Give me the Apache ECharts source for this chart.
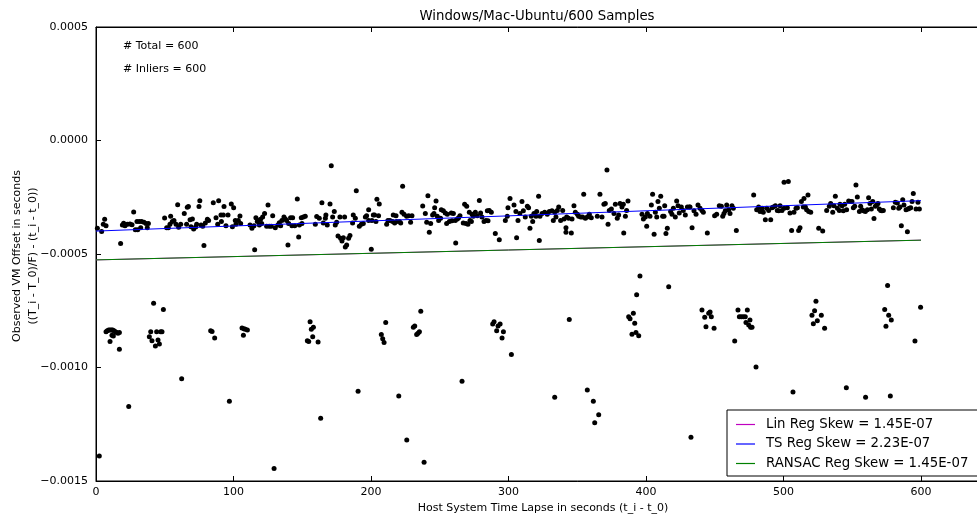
<!DOCTYPE html>
<html>
<head>
<meta charset="utf-8">
<script src="https://cdn.jsdelivr.net/npm/echarts@6/dist/echarts.min.js"></script>
<style>
html, body { margin: 0; padding: 0; background: #fff; overflow: hidden; }
/* the canvas is wider than the window; the plot frame continues past the right edge */
#chart { width: 1060px; height: 516px; }
</style>
</head>
<body>
<div id="chart"></div>
<script>
const chartTitle = 'Windows/Mac-Ubuntu/600 Samples';
const xTitle = 'Host System Time Lapse in seconds (t_i - t_0)';
const yTitleLines = ['Observed VM Offset in seconds', '((T_i - T_0)/F) - (t_i - t_0))'];
const statLines = ['# Total = 600', '# Inliers = 600'];

// Samples near the main trend: [time lapse (s), offset (microseconds)]
const bandPoints = [
  [1,-387],[4.1,-401],[6.3,-347],[5.3,-369],[7.3,-375],[17.9,-454],[19.2,-372],[20.1,-365],[21.1,-375],[22.8,-369],
  [24.7,-368],[26.2,-371],[27.4,-315],[28.6,-393],[30.3,-393],[29.8,-357],[31.5,-357],[33.2,-357],[34.9,-360],[36.4,-366],
  [38.1,-366],[32.5,-384],[37.3,-384],[49.9,-341],[51.4,-384],[52.6,-384],[54.3,-334],[53.8,-369],[55.5,-357],[56.7,-352],
  [59.4,-283],[58.2,-369],[60.1,-382],[61.6,-369],[64.2,-322],[66.4,-294],[67.2,-291],[68.4,-349],[70.1,-346],[65.9,-369],
  [69.1,-380],[71,-390],[72.5,-381],[73.2,-369],[74.9,-291],[75.5,-265],[76.4,-372],[77.6,-378],[78.5,-463],[79.5,-363],
  [81,-347],[81.9,-352],[85.3,-274],[89.2,-265],[87.3,-340],[90.9,-328],[92.6,-328],[93.1,-291],[88.5,-369],[91.2,-357],
  [94.5,-375],[96,-328],[98.4,-280],[100.1,-296],[99.2,-380],[101.3,-352],[103.5,-352],[101.8,-369],
  [104.7,-333],[105.2,-366],[112,-372],[113.4,-387],[114.9,-375],[115.4,-481],[116.3,-340],[118,-352],[119.7,-347],[121.2,-337],
  [122.6,-322],[117.3,-357],[118.8,-372],[120.5,-366],[125.1,-284],[124.1,-378],[126,-378],[127.5,-378],[128.5,-331],[130.4,-384],
  [132.3,-372],[133.3,-362],[134.3,-375],[135.2,-352],[136.7,-337],[137.7,-346],[138.6,-352],[139.6,-460],[140.1,-366],[141.5,-340],
  [143,-340],[146.4,-258],[147.4,-425],[142.5,-375],[144.5,-375],[147.9,-372],[149.3,-340],[150.8,-337],[152.2,-334],[149.8,-366],
  [159.5,-369],[160.5,-335],[162.4,-343],[164.3,-274],[165.3,-363],[166.8,-343],[167.2,-328],[168.2,-372],[170.2,-280],[171.1,-111],
  [172.1,-337],[173.3,-313],[174,-372],[175,-360],[176,-421],[177.9,-431],[178.9,-443],[179.9,-428],[181.3,-469],[182.3,-460],
  [183.7,-431],[184.7,-419],[177.4,-337],[180.8,-337],[187.1,-328],[188.6,-343],[189.3,-221],[186.6,-363],[191.5,-378],[193,-369],
  [194.4,-366],[195.9,-337],[196.8,-331],[198.3,-305],[200.2,-479],[198.3,-352],[200.7,-352],[201.7,-328],[202.6,-328],[204.3,-259],
  [206,-280],[203.6,-357],[205.5,-331],[211.4,-369],[212.3,-352],
  [213.8,-352],[215.7,-357],[217.2,-363],[218.6,-357],[220.6,-357],[221.6,-363],[216.2,-328],[218.2,-331],[223,-202],[222.5,-316],
  [224,-325],[225.9,-334],[227.4,-331],[229.8,-331],[228.8,-360],[237.6,-289],[239.5,-322],[240.5,-360],[241.4,-243],[242.4,-404],
  [243.4,-366],[244.8,-328],[245.8,-322],[246.3,-296],[247.3,-266],[248.2,-334],[249.2,-352],[250.6,-343],[251.1,-305],[252.6,-310],
  [254,-319],[255.5,-325],[258.4,-319],[255,-366],[257,-357],[258.9,-354],[259.9,-322],[261.3,-352],[262.8,-346],[263.7,-340],
  [261.6,-451],[264.7,-331],[268.1,-281],[269.6,-290],[267.1,-363],[269.1,-366],[270.5,-369],[272,-352],[273,-357],[271.5,-316],
  [273.5,-325],[274.4,-334],[275.9,-316],[277.3,-331],[278.8,-264],[279.7,-319],[280.7,-337],[282.2,-357],[283.6,-352],[285.1,-354],
  [284.6,-310],[286,-308],[287.5,-316],[290.4,-410],[293.3,-437],[297.7,-352],[299.1,-334],[299.6,-296],[301.1,-255],[304,-284],
  [305.4,-313],[305.9,-428],[306.9,-352],[308.3,-322],[309.8,-269],[310.8,-310],[312.2,-337],[313.7,-290],[314.6,-296],[315.6,-387],
  [316.6,-334],[317.6,-357],[318.5,-322],[320,-334],[321.9,-246],[320.5,-313],[322.4,-440],
  [322.9,-334],[324.4,-322],[326.3,-316],[328.2,-325],[329.7,-313],[331.6,-310],[333.6,-316],[335.5,-308],[332.6,-352],[334.5,-337],
  [336.5,-293],[337.9,-352],[339.4,-308],[340.4,-346],[342.3,-337],[343.7,-343],[341.8,-384],[341.8,-404],[345.7,-407],[346.2,-346],
  [347.6,-287],[348.6,-316],[350.1,-325],[351,-334],[352.5,-337],[353.9,-337],[355.9,-343],[357.3,-337],[358.8,-325],[360.2,-340],
  [354.7,-237],[364.6,-334],[366.5,-237],[368,-337],[369.4,-281],[370.4,-278],[371.6,-130],[372.4,-369],[373.3,-308],[374.8,-302],
  [376.7,-322],[377.7,-281],[379.1,-343],[380.1,-328],[381.1,-278],[382.5,-293],[383.5,-281],[383.8,-407],[385,-334],[385.9,-308],
  [386.9,-266],[397.1,-325],[398.1,-346],[399.5,-337],[401,-322],[402.9,-334],[403.9,-284],[400.5,-378],[404.8,-237],[405.9,-413],
  [406.8,-316],[407.8,-337],[408.7,-269],[409.7,-299],[410.7,-246],[412.1,-334],[413.1,-334],[413.6,-287],[414.5,-410],[415.5,-387],
  [417.9,-313],[418.9,-325],[419.9,-299],[421.3,-337],[422.3,-266],[423.3,-287],[424.2,-319],[425.7,-293],[427.1,-308],[428.6,-328],
  [430.1,-293],[431.5,-293],
  [432,-293],[433.5,-384],[434.9,-310],[436.4,-325],[437.8,-284],[439.3,-299],[440.7,-308],[441.7,-316],[444.6,-407],[449.9,-331],
  [451.4,-325],[453.3,-287],[454.8,-290],[455.8,-334],[456.7,-322],[457.7,-310],[458.7,-284],[460.1,-305],[461.1,-322],[462.5,-287],
  [463.5,-299],[465.7,-396],[478.3,-240],[480.5,-305],[481.9,-293],[482.9,-313],[484.4,-299],[485.3,-316],[486.8,-349],[487.8,-299],
  [489.2,-308],[490.7,-349],[491.6,-296],[492.6,-293],[494.1,-287],[495.5,-308],[496.5,-310],[497.5,-287],[498.9,-308],[500.4,-299],
  [500.4,-184],[502.8,-296],[503.5,-181],[504.7,-319],[505.9,-396],[507.6,-316],[509.1,-299],[510.1,-296],[511,-396],[512,-384],
  [513,-269],[514.4,-293],[514.9,-255],[515.9,-293],[516.8,-305],[517.8,-240],[518.3,-313],[519.8,-316],[525.6,-387],[528.5,-399],
  [531.4,-308],[533.3,-290],[534.3,-278],[535.8,-316],[536.7,-287],[537.7,-246],[539.2,-299],[540.6,-308],
  [541.1,-281],[542.6,-287],[543.5,-310],[544.5,-281],[545.9,-305],[547.4,-266],[548.4,-269],[549.8,-269],[550.8,-296],[551.8,-290],
  [552.7,-196],[553.7,-249],[555.2,-313],[556.1,-290],[557.1,-305],[558.1,-310],[559.5,-313],[561,-305],[561.9,-252],[562.9,-278],
  [563.9,-302],[564.9,-269],[565.8,-344],[566.8,-290],[567.8,-284],[568.7,-278],[569.7,-302],[570.7,-308],[571.6,-310],[572.6,-308],
  [579.9,-296],[581.3,-272],[582.8,-275],[583.8,-299],[584.7,-293],[585.7,-375],[586.7,-261],[587.6,-284],[589.1,-305],[590.1,-402],
  [590.6,-302],[591.5,-299],[592.5,-296],[593.5,-269],[594.4,-234],[596.4,-302],[597.8,-272],[598.8,-302]
];

// Samples in the lower clusters: [time lapse (s), offset (microseconds)]
const lowPoints = [
  [7.3,-843],[8.2,-838],[9.2,-835],[10.2,-835],[11.2,-835],[12.1,-835],[13.1,-838],[14.1,-843],[15,-846],[16,-849],
  [17,-846],[11.6,-858],[12.6,-861],[10.2,-886],[17,-920],[23.8,-1172],[2.4,-1390],[41.9,-717],[49,-744],[38.8,-864],
  [39.8,-843],[40.7,-882],[43.2,-905],[44.1,-843],[45.1,-879],[46.1,-896],[47,-843],[48,-843],[62.3,-1050],[83.4,-838],
  [84.4,-841],[86.3,-870],[97,-1149],[106.2,-826],[107.6,-829],[108.6,-832],[110.1,-835],[107.2,-858],[129.5,-1445],
  [153.7,-882],[154.7,-885],[155.7,-798],[156.6,-832],[158.1,-823],[157.6,-864],[161.5,-888],[163.4,-1224],[190.6,-1105],[207.5,-855],
  [208.5,-873],[209.5,-890],[210.7,-802],[220.2,-1125],[226,-1319],[230.8,-823],[231.8,-817],[233.2,-855],[234.2,-849],[235.2,-843],
  [236.2,-752],[238.6,-1417],[266.2,-1061],[288.5,-808],[289.5,-799],[292.4,-817],[293.9,-808],[291.4,-838],[296.3,-843],[295.3,-870],
  [302.1,-943],[333.6,-1131],[344.2,-789],[357.3,-1099],[361.7,-1149],[365.6,-1208],[362.7,-1243],[395.6,-597],[393.2,-679],[416.5,-644],
  [387.4,-776],[388.4,-785],[390.8,-761],[391.8,-805],[389.8,-854],[392.7,-846],[394.7,-860],[432.7,-1307],[440.7,-747],[442.7,-779],
  [443.6,-820],[445.6,-761],[446.6,-755],[447.5,-776],[449.5,-827],[464.5,-883],[466.9,-747],[473.7,-747],[467.9,-776],[469.3,-776],
  [470.8,-776],[472.2,-776],[472.7,-802],[474.7,-813],[476.1,-823],[477.1,-823],[475.6,-791],[480,-998],[506.9,-1108],[523.6,-708],
  [522.6,-750],[520.7,-770],[527.5,-770],[524.6,-794],[521.7,-807],[529.9,-827],[545.7,-1089],[559.7,-1131],[575.7,-639],[573.6,-744],
  [576.5,-770],[578.4,-791],[574.5,-818],[577.7,-1125],[595.6,-883],[599.7,-735]
];

// Fitted lines, endpoints [time lapse (s), offset (s)]
const linRegEnds = [[0, -0.000526], [600, -0.000439]];
const tsRegEnds = [[0, -0.000399], [600, -0.000265]];
const ransacRegEnds = [[0, -0.000526], [600, -0.000439]];
const fitNames = ['Lin Reg Skew = 1.45E-07', 'TS Reg Skew = 2.23E-07', 'RANSAC Reg Skew = 1.45E-07'];
const fitColors = ['#bf00bf', '#0000ff', '#008000'];

const xTicks = { min: 0, max: 700, step: 100 };
const yTicks = { min: -0.0015, max: 0.0005, step: 0.0005 };

const FONT = 'DejaVu Sans';
const toSeconds = p => [p[0], p[1] / 1e6];
const fmtY = v => (Math.abs(v) < 1e-12 ? 0 : v).toFixed(4).replace('-', '\u2212');

const chart = echarts.init(document.getElementById('chart'), null, { renderer: 'canvas' });

const axisCommon = {
  type: 'value',
  axisLine: { show: true, onZero: false, lineStyle: { color: '#000', width: 1 } },
  axisTick: { show: true, inside: true, length: 5, lineStyle: { color: '#000', width: 1 } },
  splitLine: { show: false }
};

chart.setOption({
  animation: false,
  backgroundColor: '#fff',
  grid: {
    left: 96, top: 27, right: 1.5, bottom: 35,
    containLabel: false, outerBoundsMode: 'none',
    show: true, borderColor: '#000', borderWidth: 1, backgroundColor: 'transparent'
  },
  xAxis: [
    Object.assign({}, axisCommon, {
      position: 'bottom', min: xTicks.min, max: xTicks.max, interval: xTicks.step,
      axisLabel: { color: '#000', fontFamily: FONT, fontSize: 11, margin: 6 }
    }),
    Object.assign({}, axisCommon, {
      position: 'top', min: xTicks.min, max: xTicks.max, interval: xTicks.step,
      axisLabel: { show: false }
    })
  ],
  yAxis: Object.assign({}, axisCommon, {
    min: yTicks.min, max: yTicks.max, interval: yTicks.step,
    axisLabel: { color: '#000', fontFamily: FONT, fontSize: 11, margin: 8, formatter: fmtY }
  }),
  legend: {
    data: fitNames,
    orient: 'vertical',
    left: 727, top: 410,
    padding: [7, 14, 5, 9],
    icon: 'rect',
    itemWidth: 19, itemHeight: 1.2, itemGap: 4.5,
    borderColor: '#000', borderWidth: 1, backgroundColor: '#fff',
    textStyle: { color: '#000', fontFamily: FONT, fontSize: 13.3, lineHeight: 15, padding: [0, 0, 0, 6] }
  },
  graphic: [
    { type: 'text', x: 537, y: 17, style: { text: chartTitle, fontFamily: FONT, fontSize: 13.3, fill: '#000', textAlign: 'center', textVerticalAlign: 'middle' } },
    { type: 'text', x: 543, y: 508, style: { text: xTitle, fontFamily: FONT, fontSize: 11, fill: '#000', textAlign: 'center', textVerticalAlign: 'middle' } },
    { type: 'text', x: 17, y: 256, rotation: Math.PI / 2, style: { text: yTitleLines[0], fontFamily: FONT, fontSize: 11, fill: '#000', textAlign: 'center', textVerticalAlign: 'middle' } },
    { type: 'text', x: 33, y: 256, rotation: Math.PI / 2, style: { text: yTitleLines[1], fontFamily: FONT, fontSize: 11, fill: '#000', textAlign: 'center', textVerticalAlign: 'middle' } },
    { type: 'text', x: 123, y: 46, style: { text: statLines[0], fontFamily: FONT, fontSize: 11, fill: '#000', textAlign: 'left', textVerticalAlign: 'middle' } },
    { type: 'text', x: 123, y: 69, style: { text: statLines[1], fontFamily: FONT, fontSize: 11, fill: '#000', textAlign: 'left', textVerticalAlign: 'middle' } }
  ],
  series: [
    {
      name: 'samples', type: 'scatter', symbol: 'circle', symbolSize: 5,
      itemStyle: { color: '#000', opacity: 1 }, z: 2,
      data: bandPoints.concat(lowPoints).map(toSeconds)
    },
    { name: fitNames[0], type: 'line', data: linRegEnds, symbol: 'none', lineStyle: { color: fitColors[0], width: 1 }, itemStyle: { color: fitColors[0] }, z: 3 },
    { name: fitNames[1], type: 'line', data: tsRegEnds, symbol: 'none', lineStyle: { color: fitColors[1], width: 1 }, itemStyle: { color: fitColors[1] }, z: 4 },
    { name: fitNames[2], type: 'line', data: ransacRegEnds, symbol: 'none', lineStyle: { color: fitColors[2], width: 1 }, itemStyle: { color: fitColors[2] }, z: 5 }
  ]
});
</script>
</body>
</html>
